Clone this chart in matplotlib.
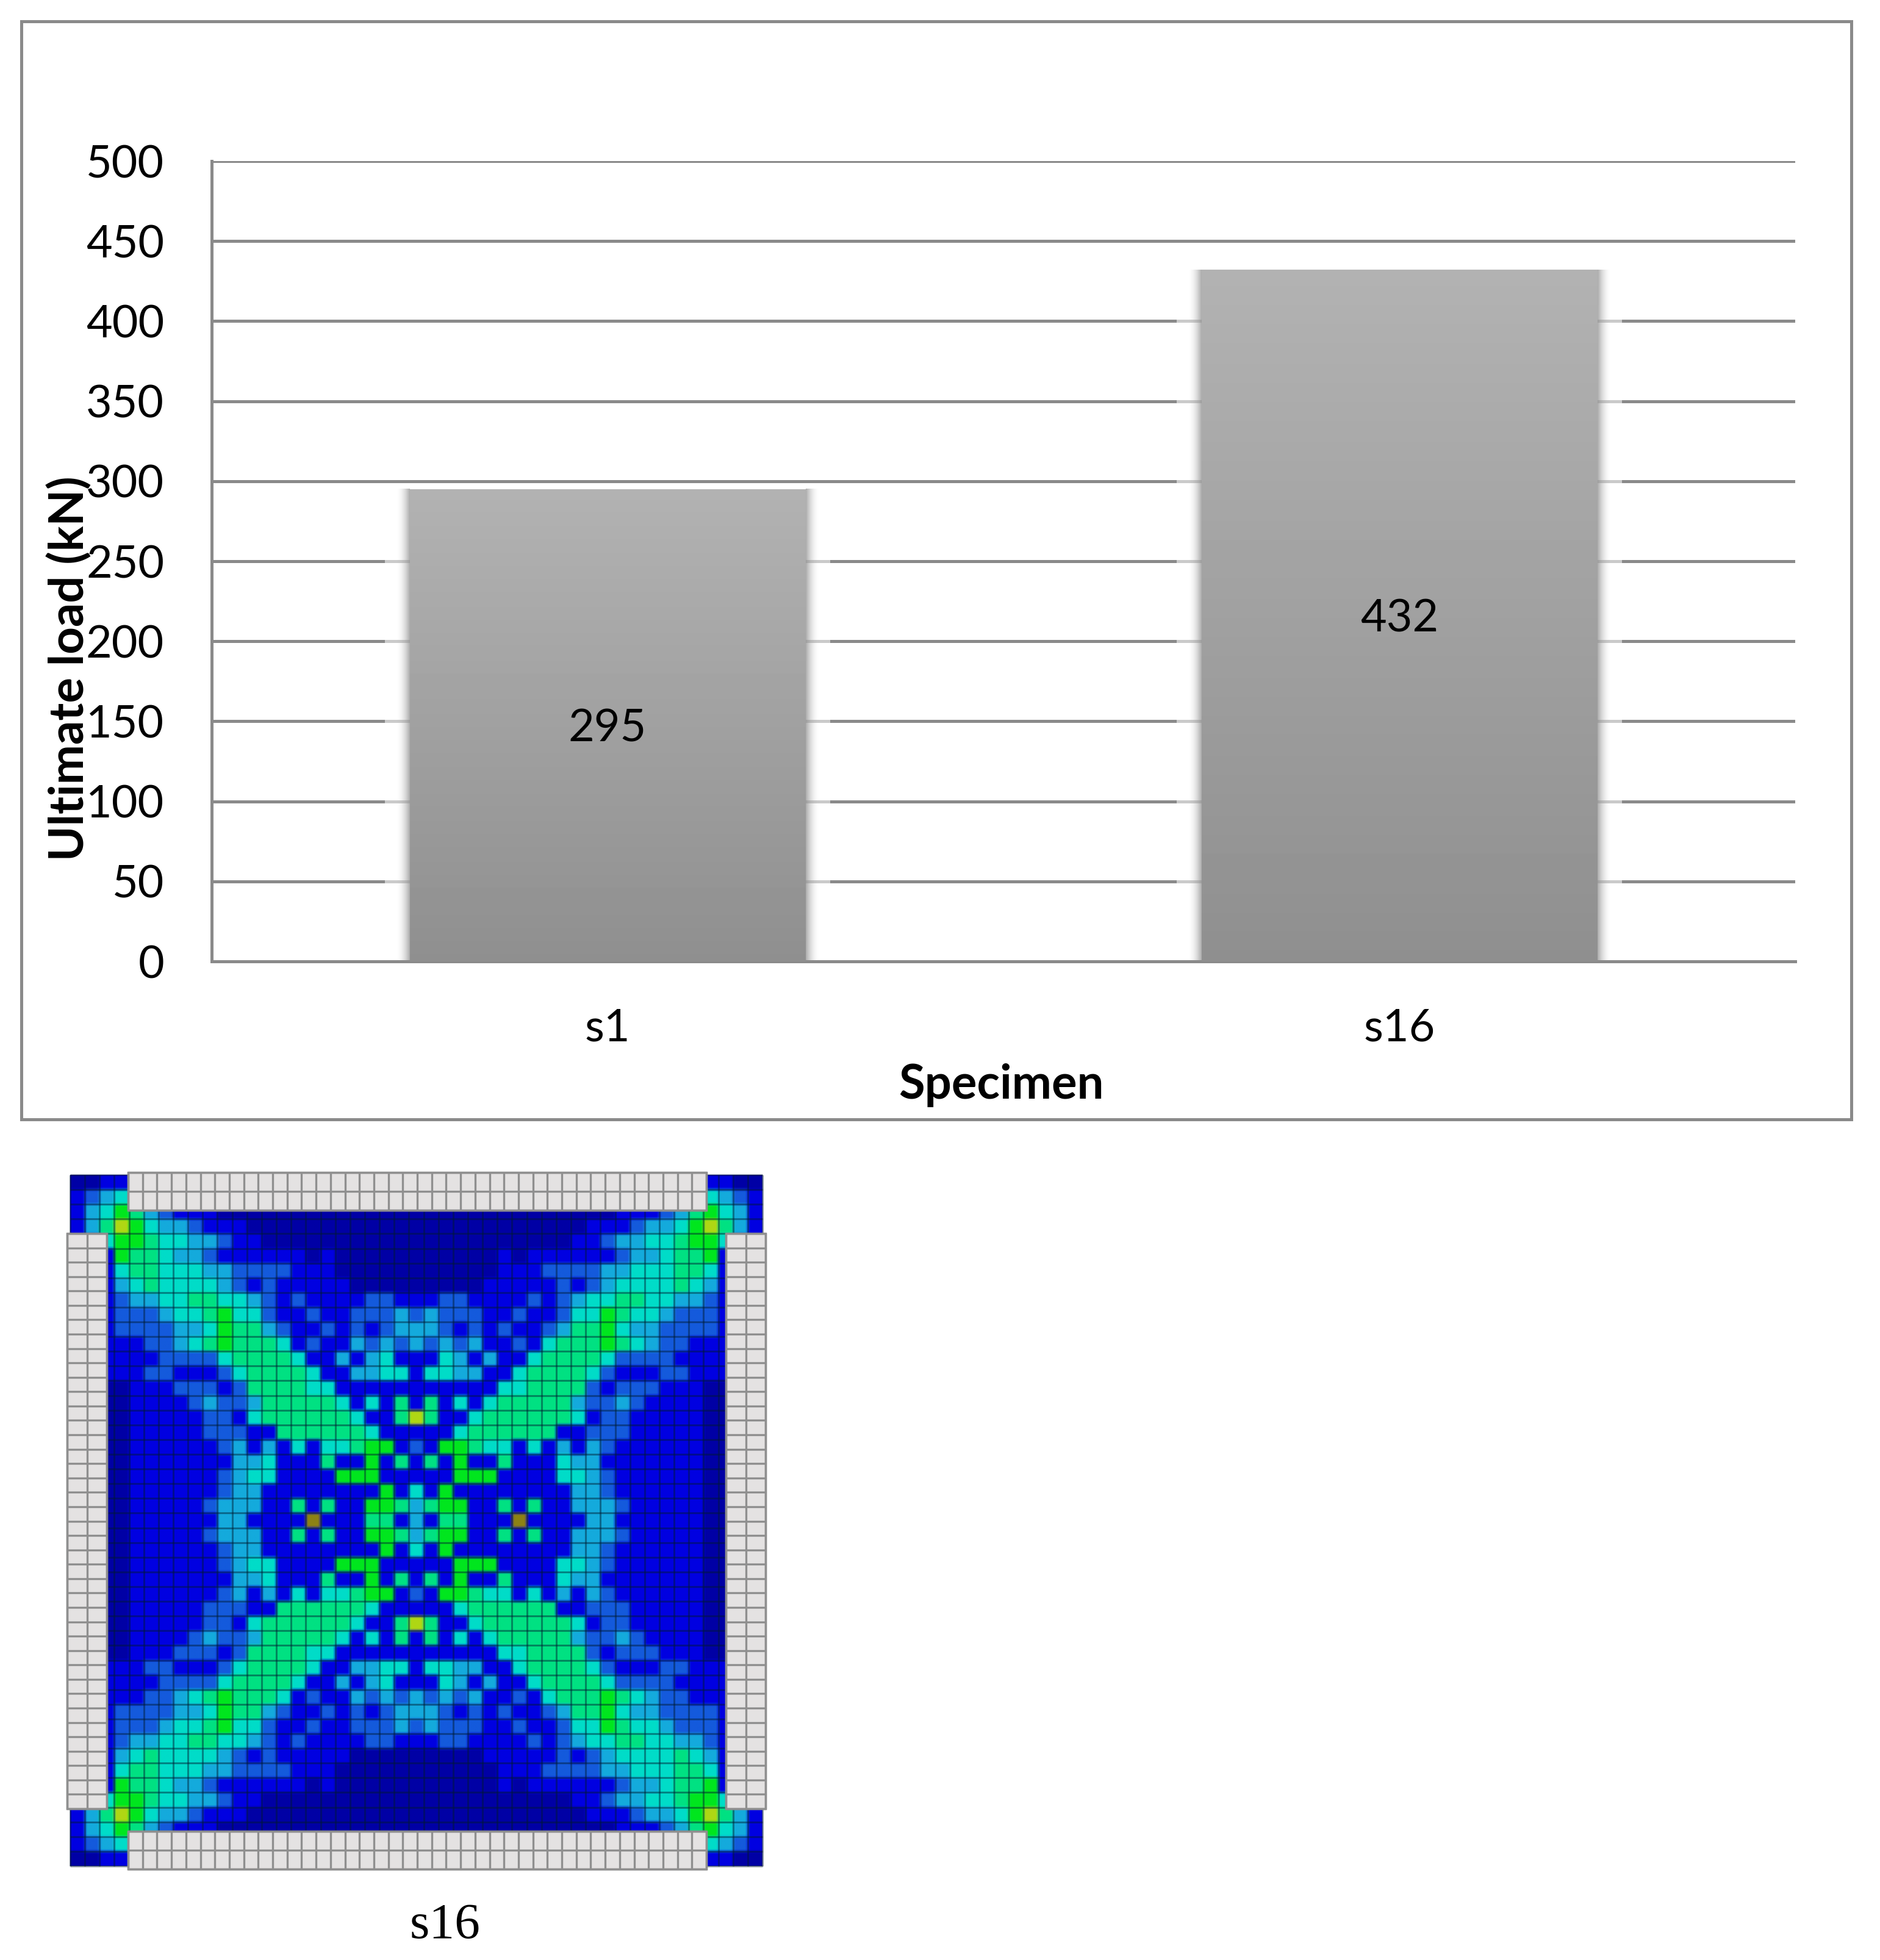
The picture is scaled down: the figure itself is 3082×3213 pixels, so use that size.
import numpy as np
import matplotlib
matplotlib.use('Agg')
import matplotlib.pyplot as plt
from matplotlib.patches import Rectangle

W, H = 3082, 3213

# chart values
specimens = ['s1', 's16']
ultimate_load = [295, 432]
y_ticks = [0, 50, 100, 150, 200, 250, 300, 350, 400, 450, 500]

# stress levels, top left quarter of the plate
stress_rows = [
    '0011 2111 0000 0000 0000 0000',
    '1234 3211 1000 0000 0000 0000',
    '1346 5321 1100 0000 0000 0000',
    '1357 6433 2111 0000 0000 0000',
    '1246 6544 3321 1000 0000 0000',
    '1116 5543 3211 1111 0100 0000',
    '1114 5544 4332 2221 1100 0000',
    '1113 4544 4432 1211 1110 0000',
    '1112 3344 5544 3212 1111 2211',
    '1112 2234 4564 4211 2112 2232',
    '1112 2223 3465 5321 1212 1233',
    '0111 1223 4565 5541 2113 2323',
    '0011 1122 2245 5554 1131 3411',
    '0011 1221 1124 5555 4113 3441',
    '0000 1112 2212 5555 4411 1111',
    '0000 1111 2322 3555 5541 4151',
    '0000 1111 1221 4555 5554 1157',
    '0000 1111 1222 1155 5555 4111',
    '0000 1111 1123 1314 1445 6612',
    '0000 1111 1113 3411 1511 6151',
    '0000 1111 1123 4411 1166 6111',
    '0000 1111 1123 3111 1111 1614',
    '0000 1111 1233 3115 1511 6653',
    '0000 1111 1133 1111 8111 5513',
]
stress_colors = [(0, 0, 165), (0, 0, 225), (20, 90, 220), (20, 170, 220), (0, 220, 200),
                 (0, 225, 130), (0, 230, 30), (175, 215, 20), (140, 130, 20)]

plt.rcParams['font.family'] = ['Lato', 'DejaVu Sans']
fig = plt.figure(figsize=(W / 100, H / 100), dpi=100, facecolor='white')
grey = '#8a8a8a'
lw = 3.6


def px_axes(x0, y0, x1, y1):
    return fig.add_axes([x0 / W, 1 - y1 / H, (x1 - x0) / W, (y1 - y0) / H])


# chart frame
fig.add_artist(Rectangle((35 / W, 1 - 1835 / H), 3000 / W, 1800 / H, transform=fig.transFigure,
                         fc='none', ec=grey, lw=3.6))

ax = px_axes(347, 264, 2943, 1576)
ax.set_xlim(-0.5, 1.5)
ax.set_ylim(0, 500)
ax.set_yticks(y_ticks)
ax.set_xticks(range(len(specimens)))
ax.set_xticklabels(specimens)
ax.tick_params(axis='both', length=0, labelsize=53)
ax.tick_params(axis='y', pad=56)
ax.tick_params(axis='x', pad=55)
ax.grid(axis='y', color=grey, lw=lw, zorder=1)
ax.set_axisbelow(True)
for s in ['top', 'right']:
    ax.spines[s].set_visible(False)
for s in ['left', 'bottom']:
    ax.spines[s].set_color(grey)
    ax.spines[s].set_linewidth(lw)

bar_w = 0.5
gradient = np.linspace(178, 143, 256).reshape(-1, 1)
fade = np.ones((1, 64, 4)) * 0.55
fade[0, :, 3] = np.linspace(0, 0.85, 64) ** 2
for i, v in enumerate(ultimate_load):
    l, r = i - bar_w / 2, i + bar_w / 2
    ax.add_patch(Rectangle((l - 0.031, 0), bar_w + 0.062, v, fc='white', alpha=0.55, ec='none', zorder=2))
    ax.imshow(fade, extent=(l - 0.017, l, 0, v), aspect='auto', zorder=2.5)
    ax.imshow(fade[:, ::-1], extent=(r, r + 0.017, 0, v), aspect='auto', zorder=2.5)
    b = ax.bar(i, v, bar_w, color='none', zorder=3)[0]
    im = ax.imshow(gradient, extent=(l, r, 0, v), aspect='auto', cmap='gray', vmin=0, vmax=255, zorder=3)
    im.set_clip_path(b)
    ax.annotate(str(v), (i, v / 2), xytext=(0, -4), textcoords='offset points', ha='center', va='center',
                fontsize=53, color='black', zorder=4)
ax.set_xlim(-0.5, 1.5)
ax.set_ylim(0, 500)

fig.text(1641 / W, 1 - 1779 / H, 'Specimen', ha='center', va='center', fontsize=56, fontweight='bold')
fig.text(114 / W, 1 - 1096 / H, 'Ultimate load (kN)', ha='center', va='center', rotation=90,
         fontsize=56, fontweight='bold')

# contour picture of the plate
pic = px_axes(90, 1900, 1270, 3080)
pic.axis('off')

quarter = np.array([[int(c) for c in row.replace(' ', '')] for row in stress_rows])
levels = np.vstack([quarter, quarter[-2::-1]])
levels = np.hstack([levels, levels[:, -2::-1]])
levels = np.repeat(np.repeat(levels, 3, axis=0), 3, axis=1)
rgb = np.array(stress_colors, dtype=float)[levels] / 255
pic.imshow(rgb, extent=(115, 1250, 3059, 1926), interpolation='bilinear', aspect='auto', zorder=1)
pic.set_xlim(90, 1270)
pic.set_ylim(3080, 1900)

mesh = np.linspace(115, 1250, 48)
mesh_y = np.linspace(1926, 3059, 48)
pic.vlines(mesh, 1926, 3059, color='#001a30', lw=2.2, alpha=0.45, zorder=2)
pic.hlines(mesh_y, 115, 1250, color='#001a30', lw=2.2, alpha=0.45, zorder=2)


def plate(x0, y0, x1, y1, nx, ny):
    pic.add_patch(Rectangle((x0, y0), x1 - x0, y1 - y0, fc='#e4e2e2', ec='#8c8c8c', lw=2.5, zorder=3))
    pic.vlines(np.linspace(x0, x1, nx + 1), y0, y1, color='#8f8f8f', lw=2.4, zorder=4)
    pic.hlines(np.linspace(y0, y1, ny + 1), x0, x1, color='#8f8f8f', lw=2.4, zorder=4)


plate(210, 1922, 1158, 1984, 40, 2)
plate(210, 3002, 1158, 3064, 40, 2)
plate(110, 2022, 175, 2965, 2, 40)
plate(1190, 2022, 1255, 2965, 2, 40)

fig.text(730 / W, 1 - 3157 / H, 's16', ha='center', va='center', fontsize=60, family='Liberation Serif')

fig.savefig('out.png', dpi=100, facecolor='white')
